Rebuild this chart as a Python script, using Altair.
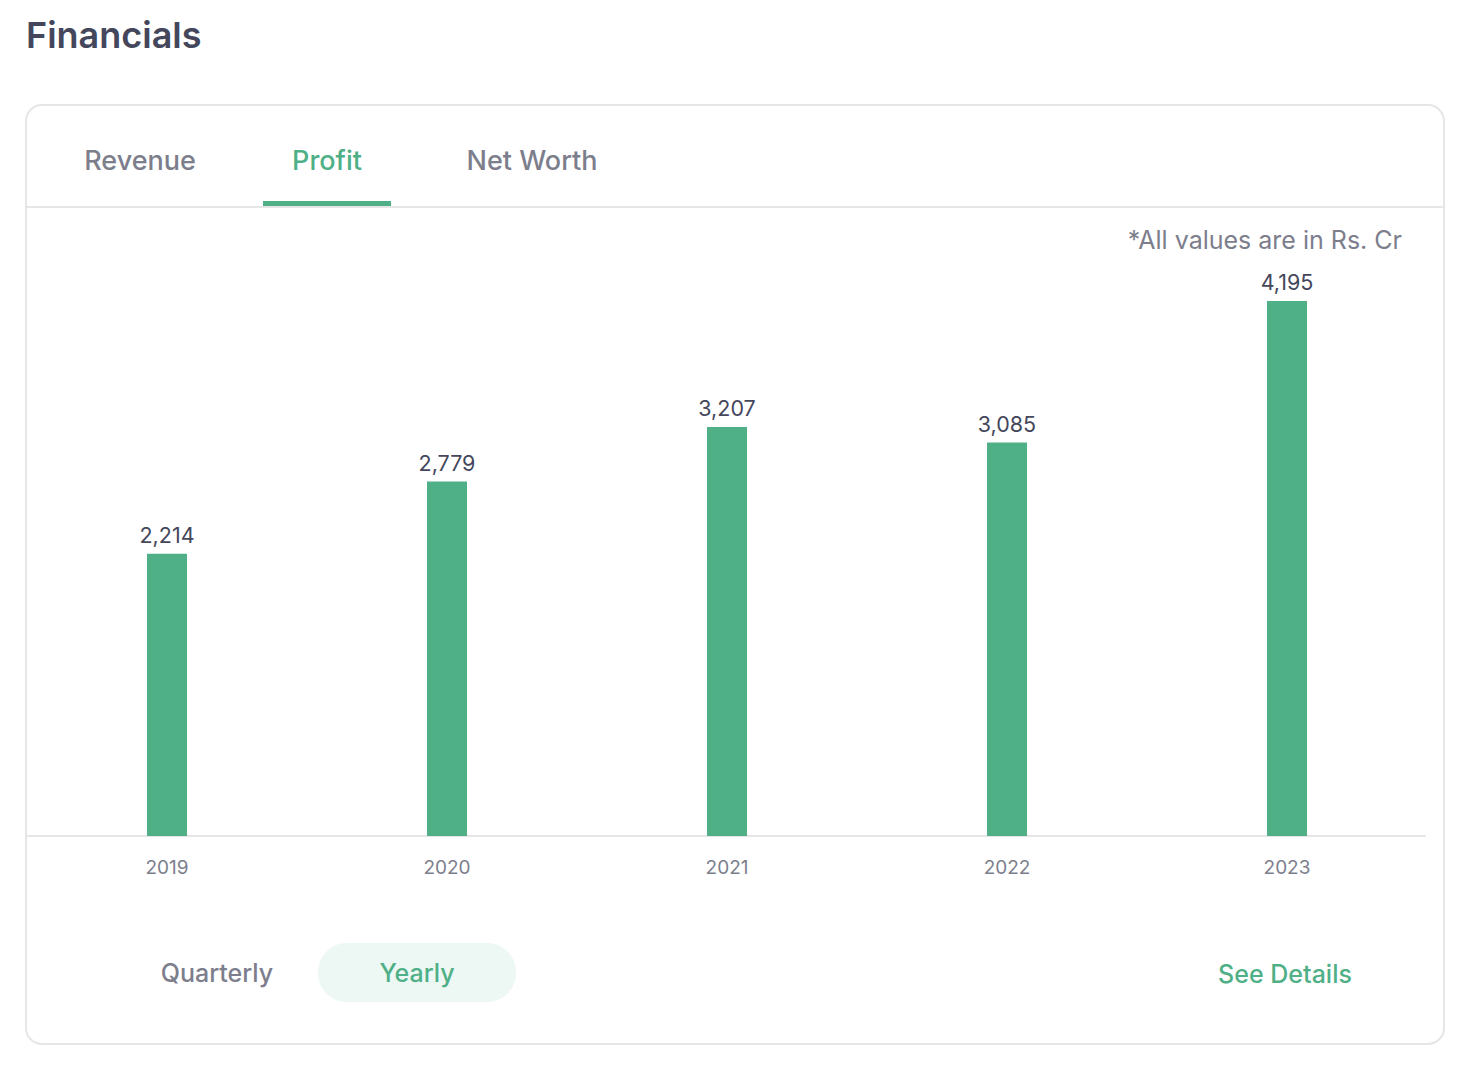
import altair as alt
import pandas as pd

years = ["2019", "2020", "2021", "2022", "2023"]
profit = [2214, 2779, 3207, 3085, 4195]
labels = ["2,214", "2,779", "3,207", "3,085", "4,195"]

tabs = ["Revenue", "Profit", "Net Worth"]

GREEN = "#4fb087"
DARK = "#44475b"
GRAY = "#7c7e8c"
LINE = "#e6e6e6"
FONT = "Inter"

df = pd.DataFrame({"year": years, "profit": profit, "label": labels})
one = pd.DataFrame({"k": [0]})

xs = alt.X("year:N", sort=years, axis=None,
           scale=alt.Scale(range=[19, 1419], paddingInner=0, paddingOuter=0))
ys = alt.Y("profit:Q", axis=None, scale=alt.Scale(domain=[0, 4195], range=[828, 293], nice=False, zero=True))

base = alt.Chart(df)

bars = base.mark_bar(size=40, color=GREEN).encode(x=xs, y=ys)
vals = base.mark_text(font=FONT, fontSize=21.5, color=DARK, baseline="bottom", dy=-6).encode(
    x=xs, y=ys, text="label:N")
yrs = base.mark_text(font=FONT, fontSize=19, color=GRAY, baseline="middle").encode(
    x=xs, y=alt.value(860), text="year:N")

def txt(t, x, y, size, color, weight=400, align="center"):
    return alt.Chart(one).mark_text(text=t, font=FONT, fontSize=size, color=color,
                                    fontWeight=weight, align=align, baseline="middle").encode(
        x=alt.value(x), y=alt.value(y))

card = alt.Chart(one).mark_rect(fill="white", stroke=LINE, strokeWidth=2, cornerRadius=16).encode(
    x=alt.value(18), x2=alt.value(1436), y=alt.value(97), y2=alt.value(1036))
sep = alt.Chart(one).mark_rule(color=LINE, strokeWidth=2).encode(
    x=alt.value(18), x2=alt.value(1436), y=alt.value(199))
underline = alt.Chart(one).mark_rect(color=GREEN).encode(
    x=alt.value(255), x2=alt.value(383), y=alt.value(193), y2=alt.value(198))
baseline = alt.Chart(one).mark_rule(color=LINE, strokeWidth=2).encode(
    x=alt.value(18), x2=alt.value(1418), y=alt.value(828))
pill = alt.Chart(one).mark_rect(fill="#edf7f3", cornerRadius=29).encode(
    x=alt.value(310), x2=alt.value(508), y=alt.value(935), y2=alt.value(994))

layers = [
    card, sep, underline, baseline, pill,
    txt("Financials", 18, 29, 36, DARK, 600, "left"),
    txt(tabs[0], 132, 154, 27, GRAY, 500),
    txt(tabs[1], 319, 154, 27, GREEN, 500),
    txt(tabs[2], 524, 154, 27, GRAY, 500),
    txt("*All values are in Rs. Cr", 1394, 233, 25, GRAY, 400, "right"),
    txt("Quarterly", 209, 966, 25, GRAY, 500),
    txt("Yearly", 409, 966, 25, GREEN, 500),
    txt("See Details", 1277, 967, 25, GREEN, 500),
    bars, vals, yrs,
]

chart = alt.layer(*layers).properties(
    width=1462, height=1050,
    autosize=alt.AutoSizeParams(type="none"),
    padding=0,
).configure_view(stroke=None)

chart.save("out.html", embed_options={"renderer": "svg", "actions": False})
